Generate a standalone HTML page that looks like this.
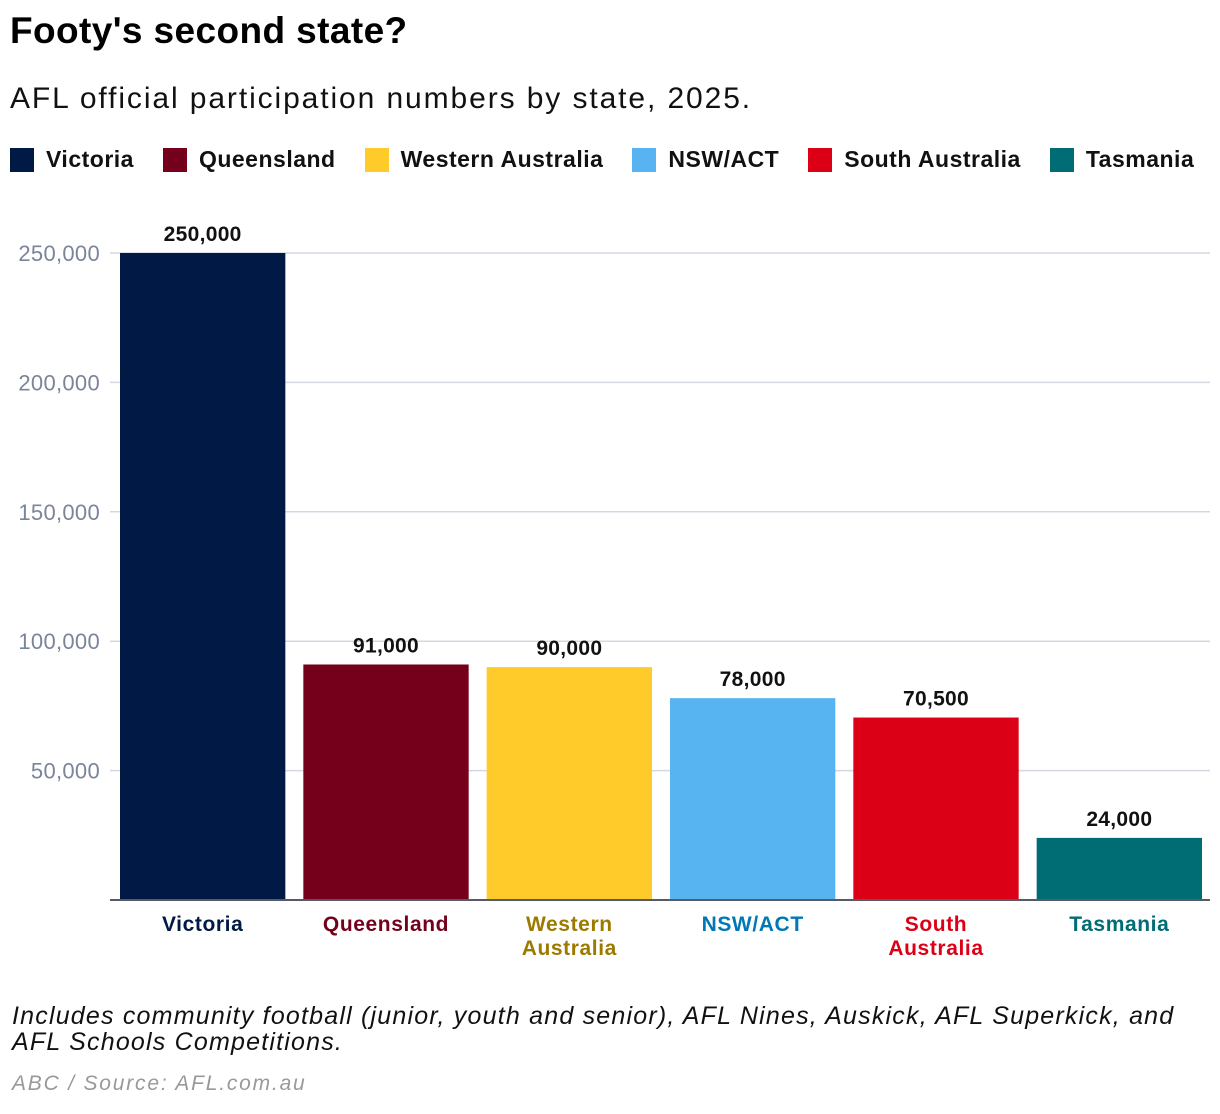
<!DOCTYPE html>
<html><head><meta charset="utf-8">
<style>
body{margin:0;background:#fff;width:1220px;height:1114px;overflow:hidden;font-family:"Liberation Sans","DejaVu Sans",sans-serif;}
#title{position:absolute;left:10px;top:10px;font-size:37px;font-weight:bold;color:#000;letter-spacing:0.4px}
#sub{position:absolute;left:10px;top:82px;font-size:30px;color:#111;letter-spacing:1.9px}
#legend{position:absolute;left:10px;top:146px;display:flex;font-size:23px;font-weight:bold;color:#111;letter-spacing:0.5px}
.li{display:flex;align-items:center;margin-right:29px}
.sw{width:24px;height:24px;margin-right:12px}
#note{position:absolute;left:12px;top:1003px;font-size:25px;font-style:italic;color:#111;line-height:26px;width:1205px;letter-spacing:1.2px}
#src{position:absolute;left:12px;top:1072px;font-size:21px;font-style:italic;color:#999;letter-spacing:1.8px}
svg{position:absolute;left:0;top:0}
</style></head><body>
<div id="title">Footy's second state?</div>
<div id="sub">AFL official participation numbers by state, 2025.</div>
<div id="legend">
<div class="li"><div class="sw" style="background:#001a45"></div>Victoria</div>
<div class="li"><div class="sw" style="background:#74001b"></div>Queensland</div>
<div class="li"><div class="sw" style="background:#ffcb2b"></div>Western Australia</div>
<div class="li"><div class="sw" style="background:#57b4f0"></div>NSW/ACT</div>
<div class="li"><div class="sw" style="background:#dc0017"></div>South Australia</div>
<div class="li" style="margin-right:0"><div class="sw" style="background:#006c73"></div>Tasmania</div>
</div>
<svg id="chart" width="1220" height="1114"></svg>
<div id="note">Includes community football (junior, youth and senior), AFL Nines, Auskick, AFL Superkick, and<br>AFL Schools Competitions.</div>
<div id="src">ABC / Source: AFL.com.au</div>
<script>
const categories=[["Victoria"],["Queensland"],["Western","Australia"],["NSW/ACT"],["South","Australia"],["Tasmania"]];
const values=[250000,91000,90000,78000,70500,24000];
const valueLabels=["250,000","91,000","90,000","78,000","70,500","24,000"];
const yTicks=[50000,100000,150000,200000,250000];
const yTickLabels=["50,000","100,000","150,000","200,000","250,000"];
const barColors=["#001a45","#74001b","#ffcb2b","#57b4f0","#dc0017","#006c73"];
const labelColors=["#001a45","#74001b","#9c7a00","#0078b4","#dc0017","#006c73"];
const svg=document.getElementById('chart');const NS="http://www.w3.org/2000/svg";
const x0=111,x1=1211,y0=900,yTop=253,maxV=250000;
const y=v=>y0-(v/maxV)*(y0-yTop);
const step=(x1-x0)/values.length,pad=9;
const x=i=>x0+i*step+pad;const bw=step-2*pad;
function mk(t,a){const e=document.createElementNS(NS,t);for(const k in a)e.setAttribute(k,a[k]);svg.appendChild(e);return e;}
yTicks.forEach((t,i)=>{
const g=mk('line',{x1:110,x2:1210,y1:y(t),y2:y(t),stroke:'#d3d8e2','stroke-width':1.5});


const l=mk('text',{x:100,y:y(t)+8,'text-anchor':'end','font-size':22,fill:'#7a8599','letter-spacing':0.3});
l.textContent=yTickLabels[i];


});
values.forEach((v,i)=>{
const r=mk('rect',{x:x(i),y:y(v),width:bw,height:y0-y(v),fill:barColors[i]});


const t=mk('text',{x:x(i)+bw/2,y:y(v)-12,'text-anchor':'middle','font-size':21,'font-weight':'bold',fill:'#111','letter-spacing':0.3});
t.textContent=valueLabels[i];


categories[i].forEach((line,j)=>{
const c=mk('text',{x:x(i)+bw/2,y:931+j*24,'text-anchor':'middle','font-size':21,'font-weight':'bold',fill:labelColors[i],'letter-spacing':0.6});
c.textContent=line;


});
});
const ax=mk('line',{x1:110,x2:1210,y1:y0,y2:y0,stroke:'#555a66','stroke-width':2});


</script>
</body></html>
